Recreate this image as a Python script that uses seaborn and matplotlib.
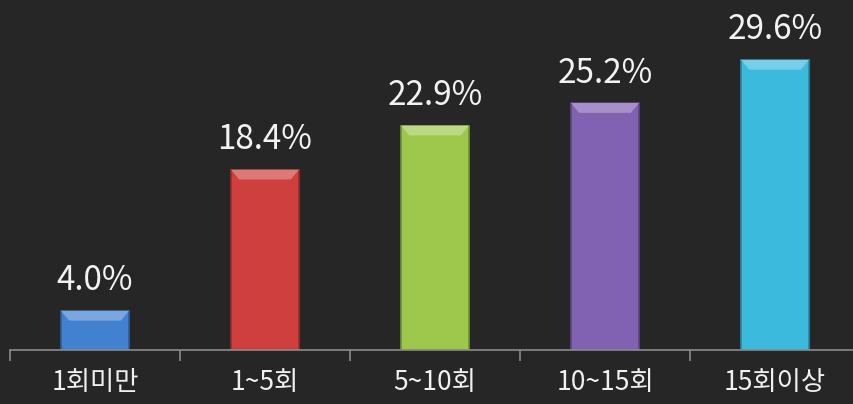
import matplotlib
matplotlib.use("Agg")
import matplotlib.pyplot as plt
import seaborn as sns
import pandas as pd
from matplotlib.patches import Polygon
import matplotlib.colors as mcolors

# Data
categories = ["1회미만", "1~5회", "5~10회", "10~15회", "15회이상"]
values = [4.0, 18.4, 22.9, 25.2, 29.6]
bar_colors = ["#4181D0", "#CF3F3D", "#9DC84C", "#8161B2", "#3BBADD"]

bg = "#262626"
sns.set_style("dark")
plt.rcParams['font.family'] = ['Noto Sans CJK KR', 'DejaVu Sans']

df = pd.DataFrame({"cat": categories, "val": values})

fig = plt.figure(figsize=(8.54, 4.04), dpi=100, facecolor=bg)
ax = fig.add_axes([10 / 854, 54 / 404, 850 / 854, 343 / 404])
ax.set_facecolor(bg)

sns.barplot(data=df, x="cat", y="val", hue="cat", palette=bar_colors,
            width=0.4, legend=False, ax=ax, saturation=1)

ax.set_xlim(-0.5, 4.5)
ax.set_ylim(0, 35)

# bevel look: darker edge, lighter top facet
for p, c in zip(ax.patches, bar_colors):
    dark = tuple(v * 0.72 for v in mcolors.to_rgb(c))
    light = tuple(min(1, v + (1 - v) * 0.3) for v in mcolors.to_rgb(c))
    p.set_edgecolor(dark)
    p.set_linewidth(1.2)
    x0, w, h = p.get_x(), p.get_width(), p.get_height()
    inset = w * 0.12
    top = Polygon([(x0, h), (x0 + w, h), (x0 + w - inset, h - 1.0), (x0 + inset, h - 1.0)],
                  closed=True, facecolor=light, edgecolor="none", zorder=p.get_zorder() + 0.1)
    ax.add_patch(top)
    ax.annotate(f"{h:.1f}%", (x0 + w / 2, h), xytext=(0, 9), textcoords="offset points",
                ha="center", va="bottom", fontsize=24, color="#F2F2F2")

for s in ["top", "right", "left"]:
    ax.spines[s].set_visible(False)
ax.spines["bottom"].set_color("#8C8C8C")
ax.spines["bottom"].set_linewidth(1.2)

ax.set_yticks([])
ax.set_xlabel("")
ax.set_ylabel("")
ax.set_xticks(range(len(categories)))
ax.set_xticklabels(categories, fontsize=19, color="#F0F0F0")
ax.tick_params(axis="x", which="major", length=0, pad=14)
ax.set_xticks([i - 0.5 for i in range(len(categories) + 1)], minor=True)
ax.tick_params(axis="x", which="minor", bottom=True, length=8, width=1.2,
               color="#8C8C8C", direction="out")
ax.grid(False)

fig.savefig("out.png", dpi=100, facecolor=bg)
